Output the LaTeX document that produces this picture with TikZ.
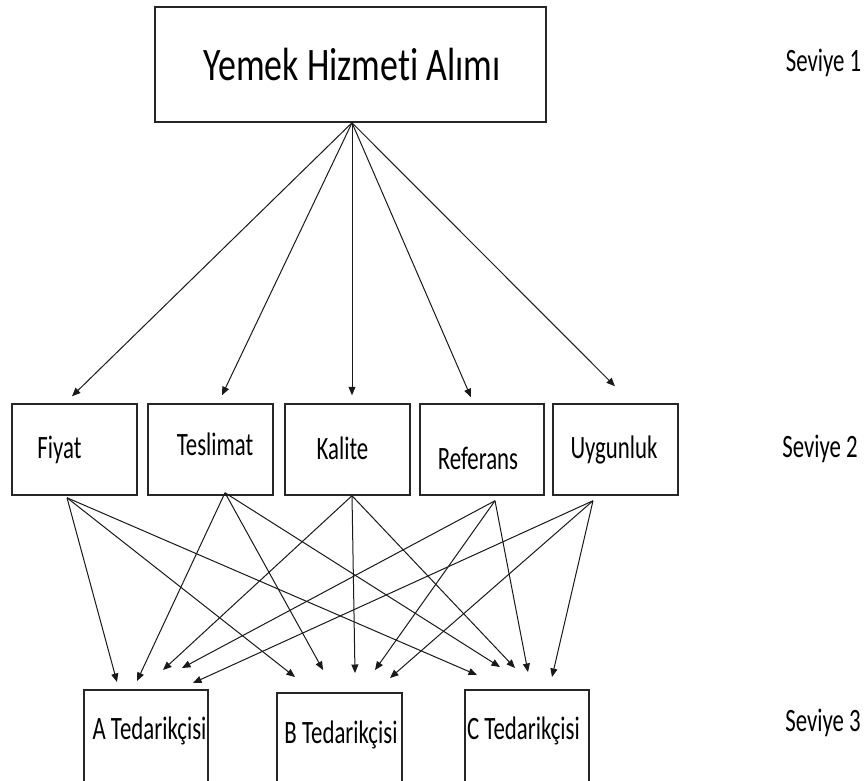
\documentclass[tikz,border=0pt]{standalone}
\usepackage{fontspec}
\setmainfont[FakeStretch=0.70,Ligatures={NoCommon}]{Carlito}
\newfontfamily\titlefont[FakeStretch=0.77,Ligatures={NoCommon}]{Carlito}
\usetikzlibrary{arrows.meta,calc}
\tikzset{
  box/.style={draw=black!85, line width=1.5pt, rectangle, inner sep=0pt},
  lbl/.style={anchor=base, inner sep=0pt, font=\fontsize{32.6}{36}\selectfont},
  ttl/.style={inner sep=0pt, font=\titlefont\fontsize{46.6}{50}\selectfont},
  arr/.style={draw=black!90, line width=1pt, -{Triangle[length=8.5pt,width=7pt]}},
}
\begin{document}
\begin{tikzpicture}[x=1pt,y=-1pt]
\useasboundingbox (0,0) rectangle (864,780);
\clip (0,0) rectangle (864,780);
\fill[white] (0,0) rectangle (864,780);
% level 1
\node[box, minimum width=391pt, minimum height=115pt] (top) at (350.5,64.5) {};
\node[ttl, anchor=base] (topT) at (352,80) {Yemek Hizmeti Alımı};
% level 2 boxes
\node[box, minimum width=125pt, minimum height=91pt] (fiy) at (74.5,449.5) {};
\node[box, minimum width=125pt, minimum height=91pt] (tes) at (210.5,449.5) {};
\node[box, minimum width=125pt, minimum height=91pt] (kal) at (347.5,449.5) {};
\node[box, minimum width=124pt, minimum height=91pt] (ref) at (482,449.5) {};
\node[box, minimum width=125pt, minimum height=91pt] (uyg) at (615.5,449.5) {};
\node[lbl] (fiyT) at (59.5,458) {Fiyat};
\node[lbl] (tesT) at (215,455) {Teslimat};
\node[lbl] (kalT) at (342.5,459.5) {Kalite};
\node[lbl] (refT) at (478,469) {Referans};
\node[lbl] (uygT) at (614,458) {Uygunluk};
% level 3 boxes
\node[box, minimum width=124pt, minimum height=140pt, anchor=north] (A) at (146,689) {};
\node[box, minimum width=125pt, minimum height=140pt, anchor=north] (B) at (339.5,692) {};
\node[box, minimum width=124pt, minimum height=140pt, anchor=north] (C) at (527,689) {};
\node[lbl] (AT) at (149.5,739) {A Tedarikçisi};
\node[lbl] (BT) at (341,743) {B Tedarikçisi};
\node[lbl] (CT) at (523.5,739) {C Tedarikçisi};
% level labels
\node[lbl] (s1) at (823.5,71) {Seviye 1};
\node[lbl] (s2) at (820,457) {Seviye 2};
\node[lbl] (s3) at (823,731) {Seviye 3};
% level 1 -> level 2
\coordinate (o) at ($(top.south)+(1.5,0)$);
\draw[arr] (o) -- ($(fiy.north)+(-2.5,-7)$);
\draw[arr] (o) -- ($(tes.north)+(11.5,-8)$);
\draw[arr] (o) -- ($(kal.north)+(4.5,-8)$);
\draw[arr] (o) -- ($(ref.north)+(-11,-6)$);
\draw[arr] (o) -- ($(uyg.north)+(-0.5,-17)$);
% sources of level 2
\coordinate (sf) at ($(fiy.south)+(-7.5,2)$);
\coordinate (st) at ($(tes.south)+(14.5,-3)$);
\coordinate (sk) at ($(kal.south)+(4.5,0)$);
\coordinate (sr) at ($(ref.south)+(13,5)$);
\coordinate (su) at ($(uyg.south)+(-22.5,5)$);
% to A
\draw[arr] (sf) -- ($(A.north)+(-29,-7)$);
\draw[arr] (st) -- ($(A.north)+(-9,-8)$);
\draw[arr] (sk) -- ($(A.north)+(17,-19)$);
\draw[arr] (sr) -- ($(A.north)+(36,-21)$);
\draw[arr] (su) -- ($(A.north)+(47,-6)$);
% to B
\draw[arr] (sf) -- ($(B.north)+(-44.5,-15)$);
\draw[arr] (st) -- ($(B.north)+(-16.5,-22)$);
\draw[arr] (sk) -- ($(B.north)+(15.5,-19)$);
\draw[arr] (sr) -- ($(B.north)+(35.5,-22)$);
\draw[arr] (su) -- ($(B.north)+(50.5,-14)$);
% to C
\draw[arr] (sf) -- ($(C.north)+(-50,-14)$);
\draw[arr] (st) -- ($(C.north)+(-27,-22)$);
\draw[arr] (sk) -- ($(C.north)+(-12,-21)$);
\draw[arr] (sr) -- ($(C.north)+(1,-17)$);
\draw[arr] (su) -- ($(C.north)+(25,-12)$);
\end{tikzpicture}
\end{document}
